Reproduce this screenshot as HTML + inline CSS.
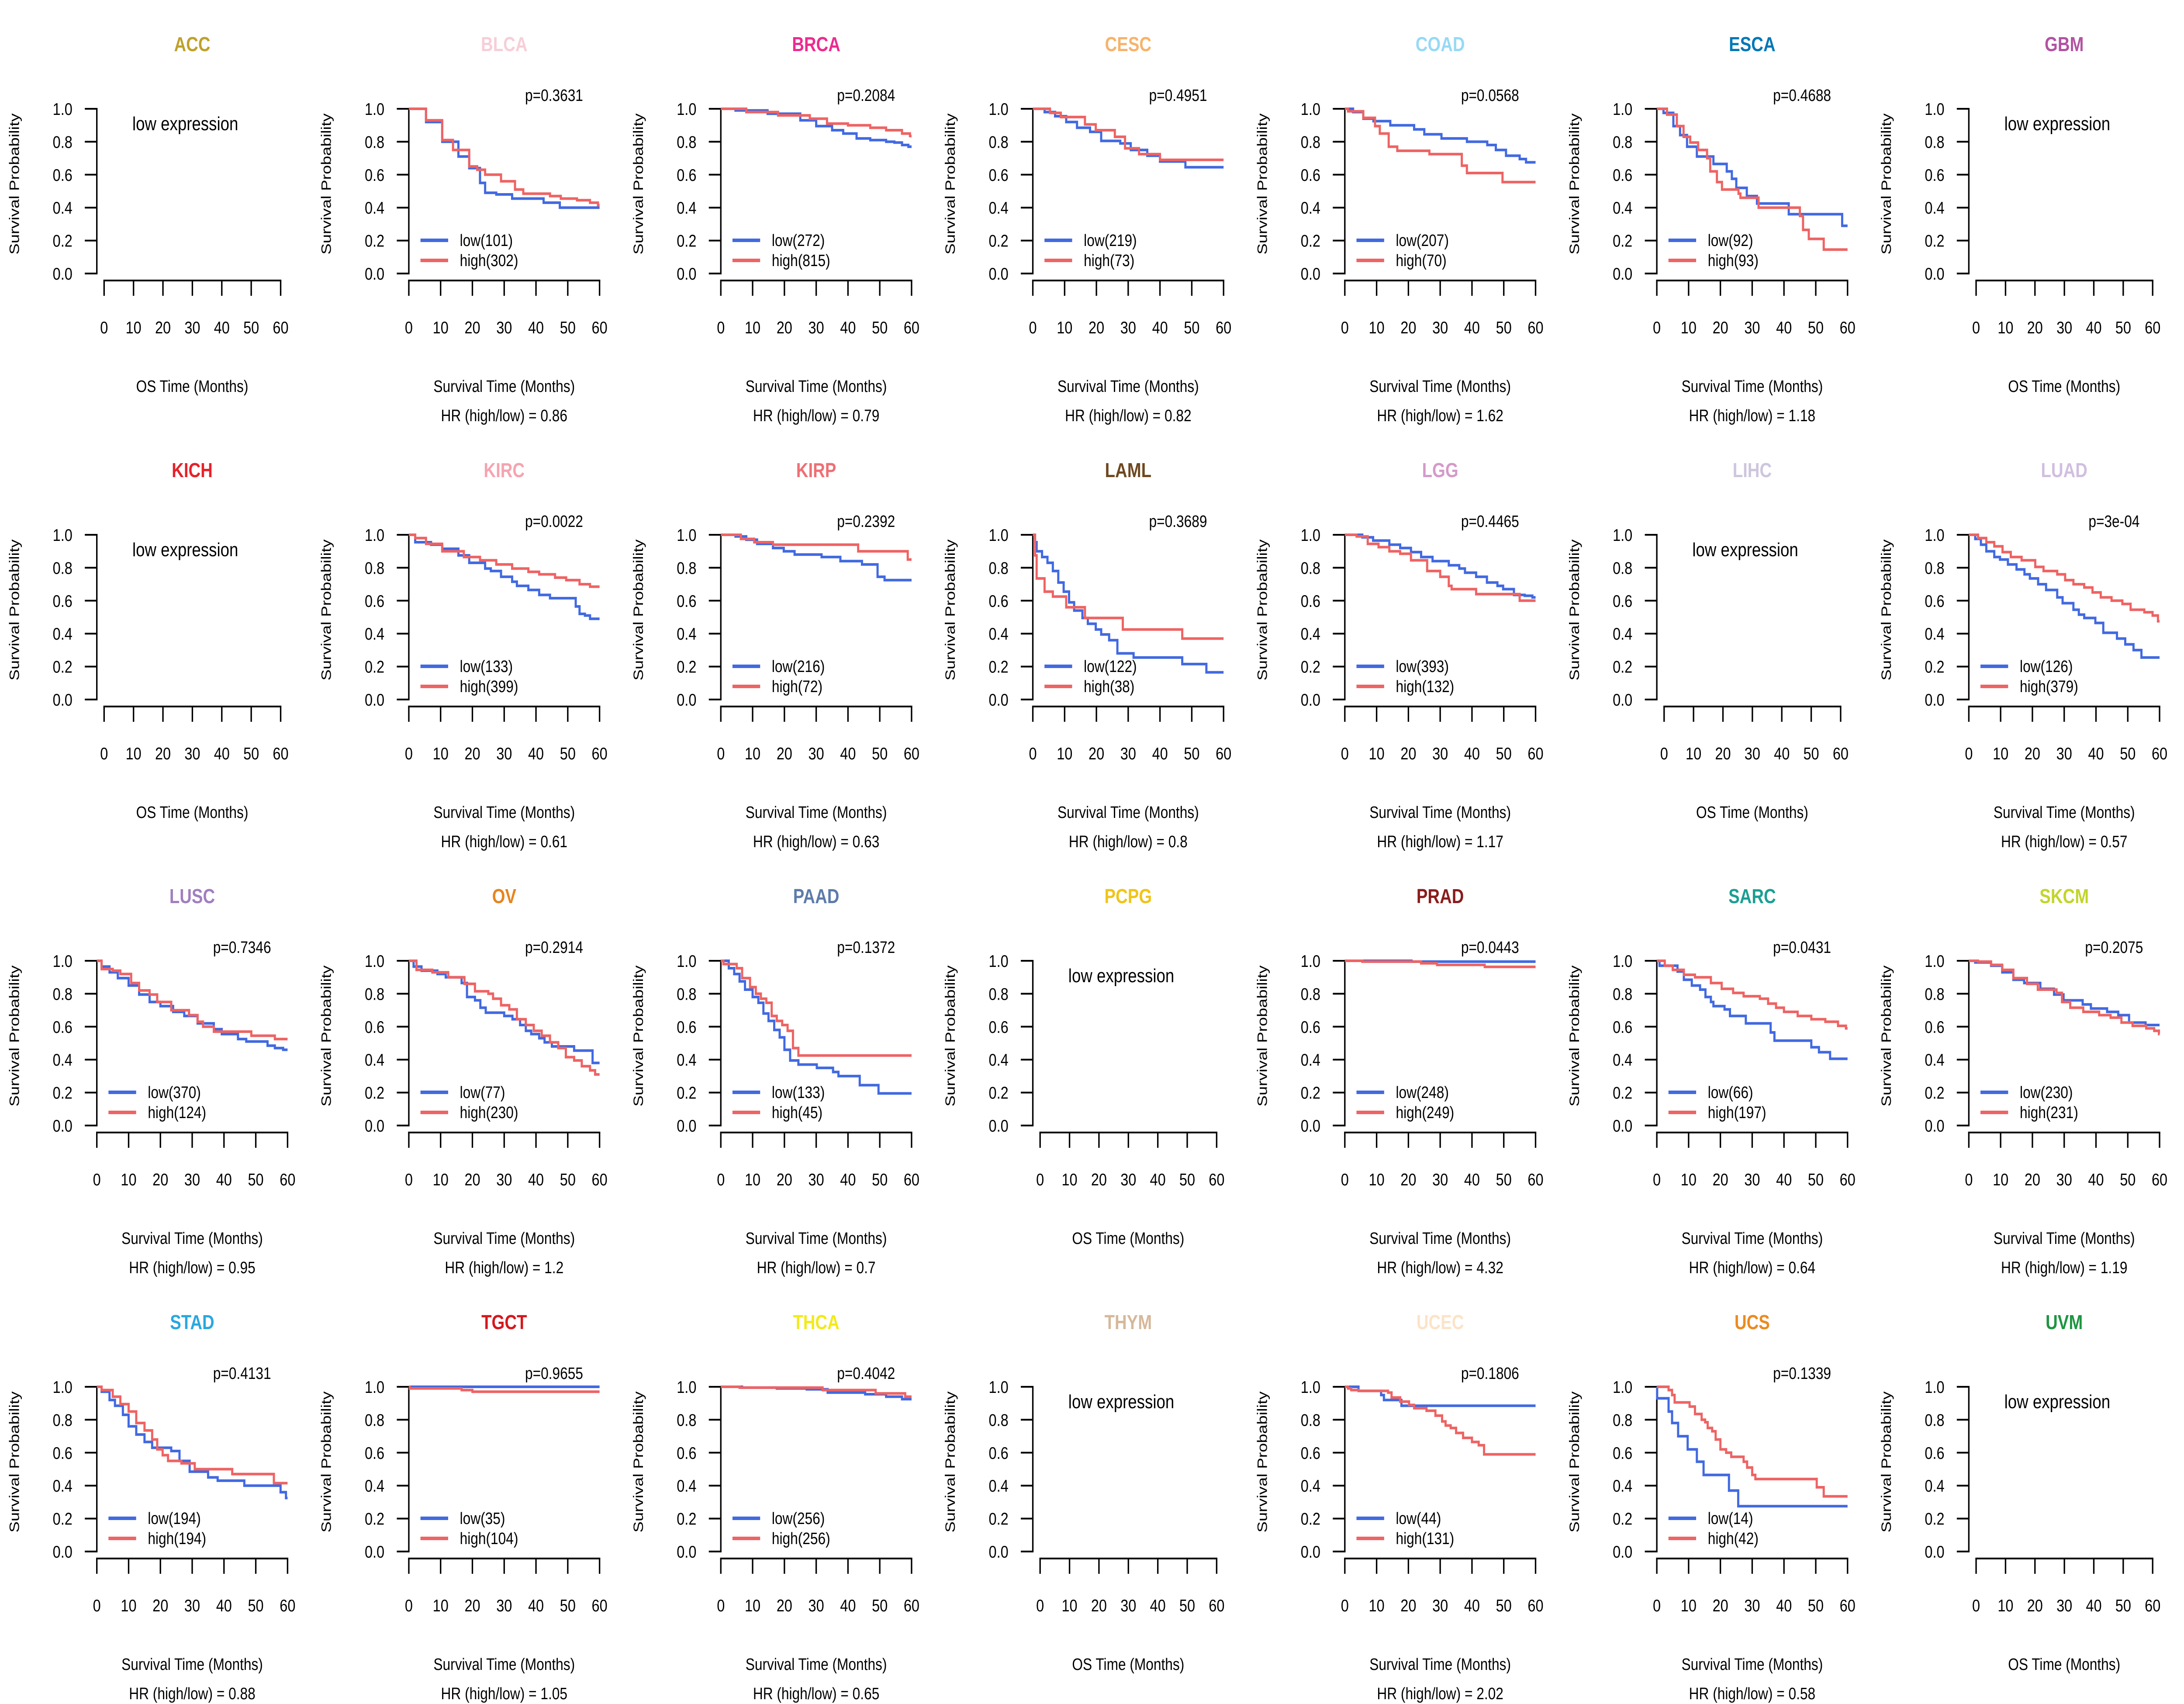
<!DOCTYPE html>
<html><head><meta charset="utf-8">
<style>
html,body{margin:0;padding:0;background:#fff;width:100%;height:100%;overflow:hidden;}
svg{display:block;width:100vw;height:100vh;font-family:"Liberation Sans",Arial,sans-serif;}
</style></head>
<body>
<svg id="chart" viewBox="0 0 6000 3900" preserveAspectRatio="none" xmlns="http://www.w3.org/2000/svg"></svg>
<script>
const cancers = ["ACC","BLCA","BRCA","CESC","COAD","ESCA","GBM","KICH","KIRC","KIRP","LAML","LGG","LIHC","LUAD","LUSC","OV","PAAD","PCPG","PRAD","SARC","SKCM","STAD","TGCT","THCA","THYM","UCEC","UCS","UVM"];
const titleColors = ["#BFA12A","#F7CED7","#EE2A8F","#F6B36B","#97D9F5","#0077B6","#B253A2","#E7212A","#F5A4B0","#EE6F74","#6E4820","#D49AC9","#CEC5DE","#D0BFE0","#A07FC0","#E7841E","#5D7BAA","#F0C419","#8A1C1C","#1A9F92","#C2D52A","#2AA7DF","#D6171D","#F2EA1A","#D6B89A","#FCE3C8","#EC8A1F","#1D9641"];
const pValues = ["","0.3631","0.2084","0.4951","0.0568","0.4688","","","0.0022","0.2392","0.3689","0.4465","","3e-04","0.7346","0.2914","0.1372","","0.0443","0.0431","0.2075","0.4131","0.9655","0.4042","","0.1806","0.1339",""];
const hrValues = ["","0.86","0.79","0.82","1.62","1.18","","","0.61","0.63","0.8","1.17","","0.57","0.95","1.2","0.7","","4.32","0.64","1.19","0.88","1.05","0.65","","2.02","0.58",""];
const nLow = [0,101,272,219,207,92,0,0,133,216,122,393,0,126,370,77,133,0,248,66,230,194,35,256,0,44,14,0];
const nHigh = [0,302,815,73,70,93,0,0,399,72,38,132,0,379,124,230,45,0,249,197,231,194,104,256,0,131,42,0];
const xTicks = [0,10,20,30,40,50,60];
const yTicks = [0,0.2,0.4,0.6,0.8,1.0];

const BLCA_low = [[5.4,0.92],[10.5,0.80],[15.6,0.71],[19,0.64],[22.4,0.55],[24,0.49],[27.5,0.48],[32.5,0.455],[42.4,0.43],[47.5,0.40]];
const BLCA_high = [[5.4,0.93],[10.5,0.81],[13.9,0.75],[19,0.65],[21.5,0.63],[24,0.60],[29,0.56],[33.4,0.51],[36,0.485],[44.4,0.47],[47.8,0.455],[52.9,0.445],[57,0.43],[59.5,0.415]];
const BRCA_low = [[4.6,0.99],[14.7,0.97],[25,0.93],[30,0.895],[35,0.87],[38.5,0.85],[42.7,0.82],[47,0.81],[52,0.80],[54.6,0.795],[57,0.78],[59,0.77]];
const BRCA_high = [[8,0.98],[18,0.96],[28,0.94],[33.4,0.91],[40,0.90],[47,0.885],[52,0.87],[57,0.85],[59.5,0.835]];
const CESC_low = [[3.7,0.98],[7,0.955],[10.5,0.92],[13.9,0.885],[18,0.86],[21.5,0.805],[27.5,0.79],[30.8,0.75],[36,0.715],[40,0.68],[48,0.645]];
const CESC_high = [[5.4,0.975],[8.8,0.95],[16.4,0.905],[19.8,0.87],[25.8,0.83],[29,0.76],[33.4,0.725],[40,0.69]];
const COAD_low = [[2.6,0.98],[5.8,0.94],[9,0.925],[14.3,0.90],[21.8,0.875],[25,0.845],[30.4,0.82],[38.4,0.80],[44.8,0.78],[47.5,0.75],[50.7,0.715],[55,0.695],[57,0.675]];
const COAD_high = [[1,0.985],[5.8,0.945],[9.5,0.895],[11,0.85],[13.8,0.77],[16.5,0.745],[26.6,0.725],[36.8,0.655],[38.4,0.61],[49.6,0.555]];
const ESCA_low = [[2.1,0.975],[5.2,0.895],[7.3,0.84],[9.5,0.77],[12.6,0.71],[17.8,0.665],[22,0.62],[23.6,0.575],[25,0.52],[28.3,0.47],[31.5,0.425],[41.5,0.36],[58.3,0.29]];
const ESCA_high = [[3.2,0.965],[6.3,0.895],[8.4,0.83],[10.5,0.795],[13,0.75],[15.8,0.70],[16.8,0.62],[18.9,0.555],[20.5,0.51],[25.7,0.485],[26.3,0.46],[32,0.40],[45,0.35],[46,0.265],[47.8,0.21],[52.5,0.145]];
const KIRC_low = [[2,0.955],[7,0.94],[10.5,0.915],[15.6,0.875],[19,0.83],[24,0.795],[25.8,0.78],[29,0.745],[32.5,0.715],[34,0.69],[37.6,0.665],[41,0.635],[44.4,0.615],[52.5,0.565],[53.7,0.52],[55.4,0.51],[57,0.49]];
const KIRC_high = [[2,0.98],[5.4,0.945],[10.5,0.90],[17.3,0.865],[22.4,0.845],[27.5,0.82],[32.5,0.795],[37.6,0.775],[41,0.76],[46,0.74],[49.5,0.725],[53.7,0.70],[57,0.685]];
const KIRP_low = [[4.6,0.99],[8,0.97],[11.4,0.945],[16.4,0.92],[19.8,0.90],[23.2,0.88],[31.7,0.865],[37.6,0.84],[44.4,0.82],[49.3,0.745],[51.5,0.725]];
const KIRP_high = [[6.3,0.975],[10.5,0.955],[16.4,0.94],[43.2,0.90],[58.8,0.85]];
const LAML_low = [[0.7,0.955],[1.2,0.90],[2.9,0.865],[4.6,0.83],[6.3,0.78],[8,0.71],[9.7,0.655],[11.4,0.59],[13,0.54],[15.6,0.495],[17.3,0.46],[19.8,0.425],[21.5,0.395],[24,0.36],[26.6,0.28],[31.7,0.255],[47,0.215],[54.6,0.165]];
const LAML_high = [[0.7,0.875],[1.2,0.735],[3.7,0.655],[6.3,0.625],[10.5,0.56],[16.4,0.495],[28.3,0.425],[47,0.37]];
const LGG_low = [[5.5,0.985],[8.9,0.965],[14,0.94],[17.4,0.92],[20.8,0.895],[24,0.865],[27.6,0.84],[32.7,0.815],[36,0.795],[37.8,0.77],[41.3,0.745],[44.7,0.71],[48,0.69],[49.8,0.67],[53.2,0.635],[56.6,0.63],[59,0.62]];
const LGG_high = [[3.7,0.99],[7.2,0.945],[10.6,0.925],[14,0.90],[17.4,0.885],[20.8,0.845],[25.9,0.78],[30,0.745],[32.7,0.69],[33.6,0.67],[41.3,0.64],[55,0.60]];
const LUAD_low = [[2,0.975],[3.8,0.94],[5.5,0.90],[8,0.865],[9.8,0.85],[12.3,0.82],[15,0.79],[17.5,0.76],[19.2,0.735],[21.8,0.70],[24.3,0.665],[27.8,0.62],[29.5,0.585],[32.9,0.545],[34.6,0.515],[36.3,0.495],[39.8,0.465],[42.3,0.405],[46.6,0.37],[49.2,0.335],[51.8,0.30],[54.3,0.255]];
const LUAD_high = [[2.9,0.98],[5.5,0.955],[8,0.93],[10.6,0.895],[13.2,0.865],[16.6,0.845],[20.9,0.805],[23.5,0.78],[27.8,0.76],[30.3,0.725],[32.9,0.70],[36.3,0.68],[38.9,0.65],[41.5,0.62],[44.9,0.60],[48.3,0.58],[50.9,0.545],[55.2,0.53],[57.8,0.51],[59.5,0.475]];
const LUSC_low = [[1.5,0.965],[4,0.93],[6.6,0.895],[10,0.85],[13.3,0.795],[16.6,0.75],[20,0.725],[24,0.69],[27.5,0.665],[31.7,0.62],[36.8,0.585],[39.3,0.555],[44.4,0.525],[47,0.51],[53.7,0.485],[56,0.47],[58.6,0.46]];
const LUSC_high = [[1.5,0.95],[5,0.94],[7.4,0.92],[10.8,0.865],[13.3,0.82],[16.6,0.795],[19,0.75],[23.4,0.70],[29,0.67],[31.7,0.63],[33.4,0.60],[36.8,0.57],[48.6,0.545],[56,0.525]];
const OV_low = [[1.5,0.965],[4,0.94],[9,0.92],[11.6,0.90],[16.6,0.865],[18.3,0.78],[20.8,0.76],[22.5,0.715],[24.2,0.685],[30,0.665],[32.6,0.645],[35,0.61],[36.8,0.575],[38.5,0.555],[41,0.53],[42.7,0.505],[45,0.48],[52,0.455],[57.8,0.38]];
const OV_high = [[2.4,0.945],[7.4,0.93],[12.4,0.90],[17.5,0.86],[20.8,0.815],[25,0.80],[26.5,0.77],[29,0.73],[31.6,0.705],[34,0.645],[36.8,0.61],[39.3,0.575],[41.8,0.545],[44.4,0.505],[47,0.47],[49.4,0.415],[52,0.395],[54.4,0.36],[57,0.335],[58.6,0.31]];
const PAAD_low = [[2.5,0.955],[4.2,0.92],[5.9,0.875],[7.6,0.825],[10,0.78],[11.8,0.745],[13.4,0.68],[15,0.635],[16.8,0.58],[18.5,0.535],[20,0.46],[21.8,0.395],[24.4,0.37],[30.2,0.35],[35.3,0.325],[37,0.30],[43.7,0.245],[49.6,0.195]];
const PAAD_high = [[0.8,0.98],[5,0.955],[6.7,0.895],[9.2,0.84],[11,0.80],[12.6,0.77],[14.3,0.745],[16,0.665],[17.6,0.635],[19.3,0.61],[21,0.575],[22.7,0.47],[24.4,0.425]];
const PRAD_low = [[21,0.995]];
const PRAD_high = [[5.5,0.995],[24,0.985],[29,0.975],[44,0.963]];
const SARC_low = [[0.85,0.97],[6.5,0.935],[8.5,0.885],[11,0.85],[13.6,0.825],[15.3,0.78],[17,0.75],[17.8,0.725],[21.3,0.705],[23,0.665],[28,0.62],[35.8,0.565],[37,0.515],[48.6,0.475],[51,0.445],[54.5,0.405]];
const SARC_high = [[2.5,0.97],[5,0.945],[8.5,0.915],[12,0.90],[17,0.865],[20.4,0.83],[24,0.805],[27.3,0.785],[32.4,0.77],[35,0.74],[37.5,0.715],[40,0.69],[44.3,0.665],[48.6,0.645],[53,0.63],[57,0.605],[59.5,0.59]];
const SKCM_low = [[2,0.99],[7,0.97],[10.5,0.93],[14,0.885],[17.4,0.865],[22.5,0.83],[26.8,0.795],[29.8,0.76],[35.8,0.735],[38.4,0.71],[43.5,0.69],[47,0.67],[50.4,0.625],[55.6,0.61]];
const SKCM_high = [[2.9,0.995],[7,0.975],[10.5,0.945],[14,0.895],[18.3,0.86],[21.7,0.825],[27.6,0.805],[29.3,0.75],[31.9,0.715],[36,0.69],[41,0.67],[44.6,0.655],[48,0.625],[51.5,0.605],[55.8,0.59],[58.3,0.575],[59.8,0.555]];
const STAD_low = [[1.5,0.97],[4,0.92],[5.7,0.885],[8.2,0.83],[10,0.76],[12.4,0.71],[15,0.665],[17.4,0.63],[23.4,0.61],[26,0.55],[29.2,0.485],[35,0.45],[38,0.43],[46.4,0.40],[57.8,0.36],[59.5,0.325]];
const STAD_high = [[1.5,0.98],[5,0.94],[7.4,0.895],[10,0.85],[12.4,0.78],[15,0.735],[17.4,0.68],[19,0.62],[20.7,0.585],[22.4,0.55],[26.6,0.535],[30.8,0.50],[42.6,0.47],[55.7,0.415]];
const TGCT_low = [];
const TGCT_high = [[0.3,0.99],[16.6,0.98],[20,0.97]];
const THCA_low = [[6.7,0.995],[17.6,0.99],[27,0.985],[33.6,0.965],[45.4,0.955],[52,0.94],[57,0.925]];
const THCA_high = [[5.9,0.995],[32,0.98],[48.7,0.96],[58,0.94]];
const UCEC_low = [[4.3,0.975],[11.4,0.95],[12.3,0.92],[17.8,0.885]];
const UCEC_high = [[1,0.99],[2,0.98],[4.3,0.975],[13.6,0.965],[14.7,0.935],[17.4,0.91],[20.2,0.89],[21.8,0.87],[25.7,0.855],[28.5,0.825],[30.6,0.79],[31.7,0.765],[33.3,0.75],[35,0.72],[37.2,0.69],[40,0.665],[42.1,0.645],[43.8,0.59]];
const UCS_low = [[0.1,0.93],[3.7,0.85],[4.8,0.78],[6.7,0.70],[9.7,0.62],[12.6,0.545],[14.7,0.465],[22.7,0.37],[25.6,0.275]];
const UCS_high = [[3.7,0.98],[4.8,0.95],[5.6,0.905],[10.3,0.88],[12,0.835],[14.1,0.80],[15.2,0.785],[16,0.75],[17.4,0.73],[18.5,0.68],[20,0.62],[21.8,0.60],[23.4,0.575],[27.3,0.545],[28.4,0.51],[30,0.465],[31,0.44],[50.3,0.39],[52.5,0.335]];

const curves = {BLCA:[BLCA_low,BLCA_high],BRCA:[BRCA_low,BRCA_high],CESC:[CESC_low,CESC_high],COAD:[COAD_low,COAD_high],ESCA:[ESCA_low,ESCA_high],KIRC:[KIRC_low,KIRC_high],KIRP:[KIRP_low,KIRP_high],LAML:[LAML_low,LAML_high],LGG:[LGG_low,LGG_high],LUAD:[LUAD_low,LUAD_high],LUSC:[LUSC_low,LUSC_high],OV:[OV_low,OV_high],PAAD:[PAAD_low,PAAD_high],PRAD:[PRAD_low,PRAD_high],SARC:[SARC_low,SARC_high],SKCM:[SKCM_low,SKCM_high],STAD:[STAD_low,STAD_high],TGCT:[TGCT_low,TGCT_high],THCA:[THCA_low,THCA_high],UCEC:[UCEC_low,UCEC_high],UCS:[UCS_low,UCS_high]};

const NS = "http://www.w3.org/2000/svg";
const svg = document.getElementById("chart");
const PW = 6000/7, PH = 975;
const BLUE = "#4169E1", RED = "#EE6363";
function el(tag, attrs, parent, text){
  const e = document.createElementNS(NS, tag);
  for (const k in attrs) e.setAttribute(k, attrs[k]);
  if (text !== undefined) e.textContent = text;
  parent.appendChild(e);
  return e;
}
function yScale(v){ return 626 - v*377; }
cancers.forEach((name, i) => {
  const col = i % 7, row = Math.floor(i / 7);
  const g = el("g", {transform: "translate(" + (col*PW).toFixed(2) + "," + (row*PH) + ")"}, svg);
  
  
  const empty = !curves[name];
  const x0 = empty ? 286 : 266, x1 = empty ? 771 : 790;
  const xScale = t => x0 + t/60*(x1-x0);
  const t = el("text", {x:528, y:117, "text-anchor":"middle", "font-size":46, "font-weight":"bold", fill:titleColors[i]}, g, name);
  
  
  const yl = el("text", {transform:"translate(52,421) rotate(-90)", "text-anchor":"middle", "font-size":38}, g, "Survival Probability");
  
  
  const ya = el("g", {}, g);
  
  
  el("line", {x1:266, y1:yScale(0)+2, x2:266, y2:yScale(1)-2, stroke:"#000", "stroke-width":4}, ya);
  yTicks.forEach(v => {
    el("line", {x1:233, y1:yScale(v), x2:266, y2:yScale(v), stroke:"#000", "stroke-width":4}, ya);
    const tl = el("text", {x:199, y:yScale(v)+14, "text-anchor":"end", "font-size":39}, ya, v.toFixed(1));
    
    
  });
  const xa = el("g", {}, g);
  
  
  el("line", {x1:xScale(0)-2, y1:642, x2:xScale(60)+2, y2:642, stroke:"#000", "stroke-width":4}, xa);
  xTicks.forEach(v => {
    el("line", {x1:xScale(v), y1:642, x2:xScale(v), y2:677, stroke:"#000", "stroke-width":4}, xa);
    const tl = el("text", {x:xScale(v), y:763, "text-anchor":"middle", "font-size":39}, xa, String(v));
    
    
  });
  const xl = el("text", {x:528, y:897, "text-anchor":"middle", "font-size":38}, g, empty ? "OS Time (Months)" : "Survival Time (Months)");
  
  
  if (empty) {
    const le = el("text", {x:509, y:298, "text-anchor":"middle", "font-size":44}, g, "low expression");
    
    
    return;
  }
  const pv = el("text", {x:665, y:231, "text-anchor":"middle", "font-size":38}, g, "p=" + pValues[i]);
  
  
  const hr = el("text", {x:528, y:964, "text-anchor":"middle", "font-size":38, "xml:space":"preserve"}, g, "HR (high/low) =  " + hrValues[i]);
  
  
  [[curves[name][0], BLUE, "low"], [curves[name][1], RED, "high"]].forEach(([pts, color, lab]) => {
    let d = "M" + xScale(0) + "," + yScale(1);
    pts.forEach(p => {
      d += " H" + xScale(p[0]).toFixed(1) + " V" + yScale(p[1]).toFixed(1);
    });
    d += " H" + xScale(60);
    const path = el("path", {d:d, fill:"none", stroke:color, "stroke-width":6}, g);
    
    
  });
  const leg = el("g", {}, g);
  
  
  el("line", {x1:298, y1:550, x2:374, y2:550, stroke:BLUE, "stroke-width":8}, leg);
  const l1 = el("text", {x:406, y:563, "font-size":38}, leg, "low(" + nLow[i] + ")");
  
  
  el("line", {x1:298, y1:596, x2:374, y2:596, stroke:RED, "stroke-width":8}, leg);
  const l2 = el("text", {x:406, y:609, "font-size":38}, leg, "high(" + nHigh[i] + ")");
  
  
});
</script>
</body></html>
